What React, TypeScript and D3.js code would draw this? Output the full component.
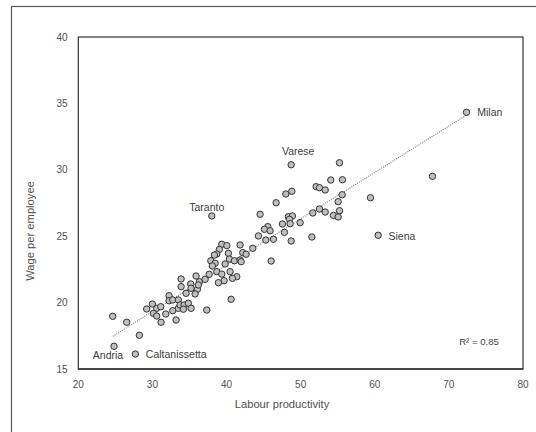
import React from "react";
import * as d3 from "d3";

const productivity = [
  24.64, 24.82, 26.53, 27.7, 28.24, 29.23, 29.99, 30.58, 31.12, 30.13, 30.58, 31.17, 31.8, 32.24, 32.24, 32.74, 33.5, 33.19, 32.74, 33.5, 33.73, 34.27, 34.85, 35.22, 34.18, 33.87, 33.87, 35.17, 35.89, 36.34, 34.54, 35.21, 36.07, 35.76, 37.33, 36.2,
  39.36, 40.04, 39.04, 38.69, 38.37, 37.88, 40.25, 40.39, 39.81, 41.06, 41.83, 42.19, 42.64, 41.97, 38.46, 38.09, 38.69, 39.36, 40.48, 41.38, 40.79, 39.67, 38.9, 37.65, 37.11, 40.62, 41.83, 43.54, 46.02, 38.01,
  44.53, 48.35, 48.89, 48.49, 49.93, 47.54, 48.58, 45.57, 45.11, 45.88, 44.3, 45.3, 46.33, 47.81, 48.72, 48.0, 48.81, 46.69, 48.72,
  55.24, 54.07, 55.64, 52.09, 52.54, 53.31, 67.79, 55.6, 55.06, 59.42, 51.64, 52.54, 53.31, 55.24, 54.43, 55.06, 51.51, 60.46, 72.38,
];

const wage = [
  18.97, 16.71, 18.52, 16.13, 17.54, 19.52, 19.89, 19.57, 19.69, 19.19, 18.99, 18.52, 19.14, 20.52, 20.14, 20.2, 20.2, 18.69, 19.39, 19.57, 19.82, 19.82, 19.95, 19.57, 19.5, 21.78, 21.2, 21.4, 22.0, 21.57, 20.7, 21.08, 21.0, 20.65, 19.44, 21.33,
  24.39, 24.29, 24.01, 23.66, 23.58, 23.15, 23.71, 23.28, 22.91, 23.15, 23.21, 23.76, 23.64, 23.08, 22.96, 22.76, 22.33, 22.15, 22.33, 21.95, 21.83, 21.65, 21.5, 22.13, 21.75, 20.25, 24.34, 24.09, 23.13, 26.52,
  26.65, 26.47, 26.52, 26.27, 26.02, 25.92, 25.94, 25.72, 25.52, 25.41, 25.02, 24.71, 24.77, 25.29, 24.64, 28.18, 28.38, 27.52, 30.38,
  30.53, 29.23, 29.25, 28.73, 28.65, 28.48, 29.51, 28.12, 27.6, 27.9, 26.75, 27.05, 26.82, 26.92, 26.57, 26.45, 24.94, 25.07, 34.33,
];

const labelNames = ["Andria", "Caltanissetta", "Taranto", "Varese", "Siena", "Milan"];
const labelIndex = [1, 3, 65, 84, 102, 103];

const xTicks = [20, 30, 40, 50, 60, 70, 80];
const yTicks = [15, 20, 25, 30, 35, 40];
const xTitle = "Labour productivity";
const yTitle = "Wage per employee";
const r2Text = "R² = 0.85";

// label placement: [dx, dy, anchor]
const labelLayout: [number, number, string][] = [
  [-6, 9.5, "middle"],
  [10.5, 0, "start"],
  [-5, -9, "middle"],
  [7, -13, "middle"],
  [10.3, 0.7, "start"],
  [10.7, 0, "start"],
];

export default function App() {
  const W = 536;
  const H = 432;
  const left = 78.3;
  const right = 523;
  const top = 37;
  const bottom = 369;

  const x = d3.scaleLinear().domain([20, 80]).range([left, right]);
  const y = d3.scaleLinear().domain([15, 40]).range([bottom, top]);

  const n = productivity.length;
  const mx = d3.mean(productivity) as number;
  const my = d3.mean(wage) as number;
  let sxy = 0;
  let sxx = 0;
  for (let i = 0; i < n; i++) {
    sxy += (productivity[i] - mx) * (wage[i] - my);
    sxx += (productivity[i] - mx) ** 2;
  }
  const slope = sxy / sxx;
  const intercept = my - slope * mx;
  const [x0, x1] = d3.extent(productivity) as [number, number];
  const trend = d3.line<number>()
    .x((d) => x(d))
    .y((d) => y(intercept + slope * d))([x0, x1]) as string;

  const font = "'Liberation Sans', Arial, sans-serif";
  const textColor = "#505050";

  return (
    <svg
      width={W}
      height={H}
      style={{ position: "absolute", left: 0, top: 0, background: "#fff" }}
      fontFamily={font}
    >
      <rect x={0} y={0} width={W} height={H} fill="#fff" />
      <rect x={11.5} y={6.5} width={700} height={600} fill="none" stroke="#595959" strokeWidth={1.2} />
      <rect x={left} y={top} width={right - left} height={bottom - top} fill="none" stroke="#333" strokeWidth={1.2} />
      <line x1={left} x2={right} y1={bottom} y2={bottom} stroke="#333" strokeWidth={1.6} />

      {yTicks.map((t) => (
        <text key={"y" + t} x={left - 10.6} y={y(t)} dy="0.35em" textAnchor="end" fontSize={10} fill={textColor}>
          {t}
        </text>
      ))}
      {xTicks.map((t) => (
        <text key={"x" + t} x={x(t)} y={384} dy="0.35em" textAnchor="middle" fontSize={10} fill={textColor}>
          {t}
        </text>
      ))}

      <text x={282} y={404} dy="0.35em" textAnchor="middle" fontSize={11.2} fill={textColor}>
        {xTitle}
      </text>
      <text
        transform={`translate(30,231) rotate(-90)`}
        dy="0.35em"
        textAnchor="middle"
        fontSize={11.2}
        fill={textColor}
      >
        {yTitle}
      </text>

      <path d={trend} fill="none" stroke="#7f7f7f" strokeWidth={1.2} strokeDasharray="1,1.2" />

      {productivity.map((p, i) => (
        <circle key={i} cx={x(p)} cy={y(wage[i])} r={3.2} fill="#bfbfbf" stroke="#333" strokeWidth={1} />
      ))}

      {labelNames.map((name, k) => {
        const idx = labelIndex[k];
        const [dx, dy, anchor] = labelLayout[k];
        return (
          <text
            key={name}
            x={x(productivity[idx]) + dx}
            y={y(wage[idx]) + dy}
            dy="0.35em"
            textAnchor={anchor as any}
            fontSize={10.5}
            fill="#404040"
          >
            {name}
          </text>
        );
      })}

      <text x={479} y={342} dy="0.35em" textAnchor="middle" fontSize={9.6} fill="#404040">
        {r2Text}
      </text>
    </svg>
  );
}
